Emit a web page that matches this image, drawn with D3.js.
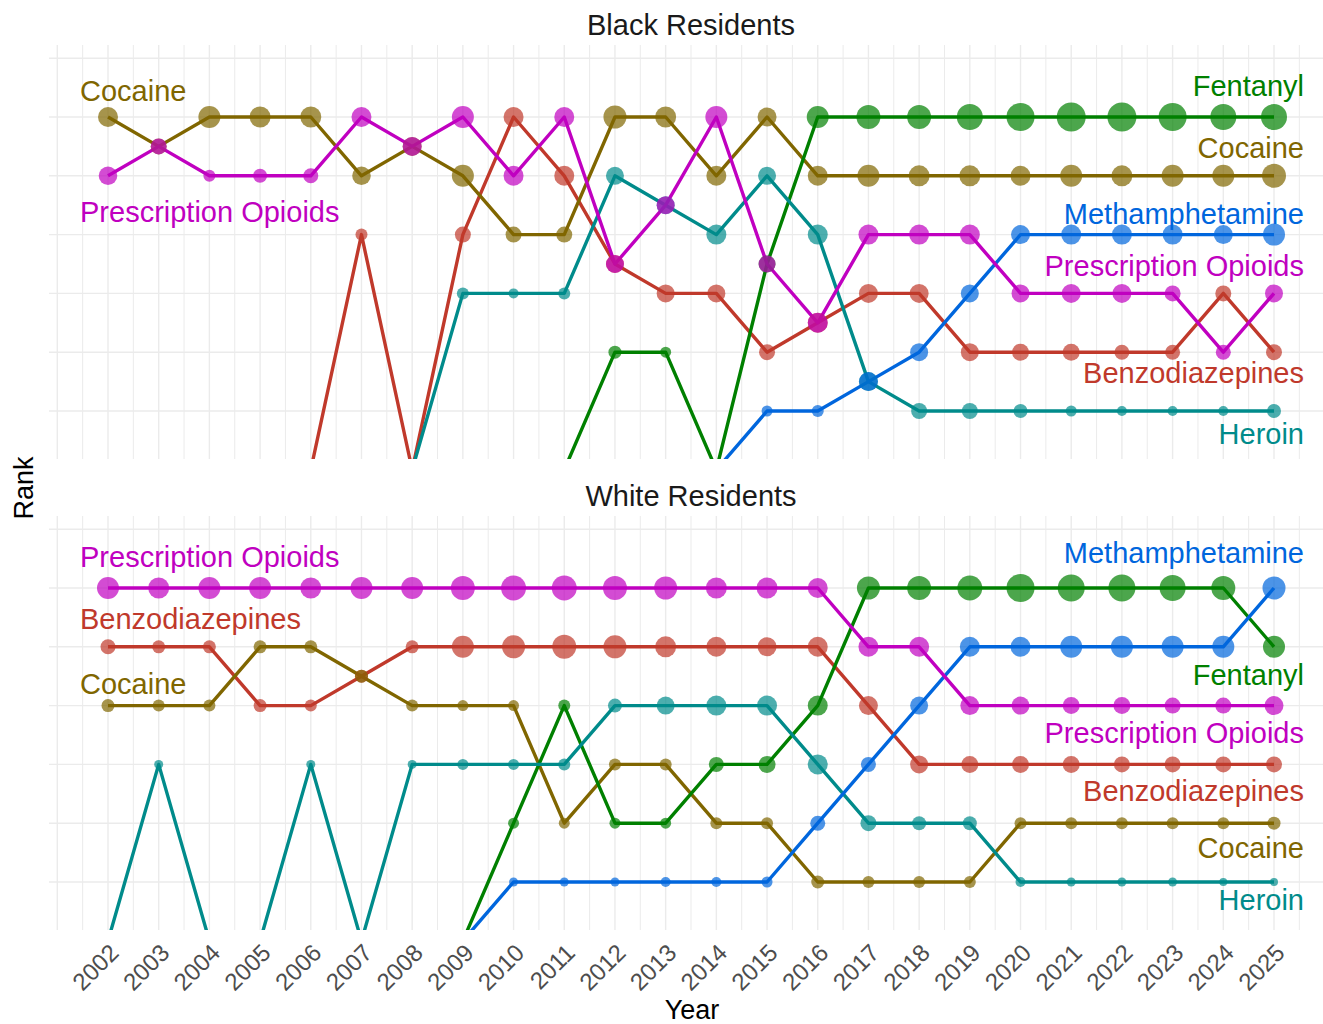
<!DOCTYPE html>
<html>
<head>
<meta charset="utf-8">
<script src="https://cdn.jsdelivr.net/npm/d3@7"></script>
<style>
  body { margin: 0; background: #fff; }
  svg { display: block; }
  text { font-family: "Liberation Sans", Arial, Helvetica, sans-serif; }
</style>
</head>
<body>
<svg id="chart" width="1323" height="1024"></svg>
<script>
// ---------------- DATA ----------------
const years = [2002, 2003, 2004, 2005, 2006, 2007, 2008, 2009, 2010, 2011, 2012, 2013,
               2014, 2015, 2016, 2017, 2018, 2019, 2020, 2021, 2022, 2023, 2024, 2025];
const drugs = ["Benzodiazepines", "Cocaine", "Fentanyl", "Heroin", "Methamphetamine", "Prescription Opioids"];
const drugColors = ["#C0392B", "#806600", "#008000", "#008B8B", "#0066DD", "#C000C0"];
const panelTitles = ["Black Residents", "White Residents"];

// Rank per year (7 = outside the top six, falls below the panel)
const blackBenzoRank    = [7, 7, 7, 7, 7, 3, 7, 3, 1, 2, 3.5, 4, 4, 5, 4.5, 4, 4, 5, 5, 5, 5, 5, 4, 5];
const blackCocaineRank  = [1, 1.5, 1, 1, 1, 2, 1.5, 2, 3, 3, 1, 1, 2, 1, 2, 2, 2, 2, 2, 2, 2, 2, 2, 2];
const blackFentanylRank = [7, 7, 7, 7, 7, 7, 7, 7, 7, 7, 5, 5, 7, 3.5, 1, 1, 1, 1, 1, 1, 1, 1, 1, 1];
const blackHeroinRank   = [7, 7, 7, 7, 7, 7, 7, 4, 4, 4, 2, 2.5, 3, 2, 3, 5.5, 6, 6, 6, 6, 6, 6, 6, 6];
const blackMethRank     = [7, 7, 7, 7, 7, 7, 7, 7, 7, 7, 7, 7, 7, 6, 6, 5.5, 5, 4, 3, 3, 3, 3, 3, 3];
const blackOpioidRank   = [2, 1.5, 2, 2, 2, 1, 1.5, 1, 2, 1, 3.5, 2.5, 1, 3.5, 4.5, 3, 3, 3, 4, 4, 4, 4, 5, 4];

const whiteBenzoRank    = [2, 2, 2, 3, 3, 2.5, 2, 2, 2, 2, 2, 2, 2, 2, 2, 3, 4, 4, 4, 4, 4, 4, 4, 4];
const whiteCocaineRank  = [3, 3, 3, 2, 2, 2.5, 3, 3, 3, 5, 4, 4, 5, 5, 6, 6, 6, 6, 5, 5, 5, 5, 5, 5];
const whiteFentanylRank = [7, 7, 7, 7, 7, 7, 7, 7, 5, 3, 5, 5, 4, 4, 3, 1, 1, 1, 1, 1, 1, 1, 1, 2];
const whiteHeroinRank   = [7, 4, 7, 7, 4, 7, 4, 4, 4, 4, 3, 3, 3, 3, 4, 5, 5, 5, 6, 6, 6, 6, 6, 6];
const whiteMethRank     = [7, 7, 7, 7, 7, 7, 7, 7, 6, 6, 6, 6, 6, 6, 5, 4, 3, 2, 2, 2, 2, 2, 2, 1];
const whiteOpioidRank   = [1, 1, 1, 1, 1, 1, 1, 1, 1, 1, 1, 1, 1, 1, 1, 2, 2, 3, 3, 3, 3, 3, 3, 3];

// Deaths per year (point size)
const blackBenzoDeaths    = [40, 40, 40, 40, 40, 160, 40, 284, 444, 444, 360, 360, 360, 284, 444, 401, 401, 360, 321, 321, 250, 250, 284, 284];
const blackCocaineDeaths  = [444, 284, 538, 490, 490, 384, 401, 538, 284, 284, 588, 490, 444, 401, 444, 538, 490, 490, 444, 538, 490, 538, 538, 640];
const blackFentanylDeaths = [40, 40, 40, 40, 40, 40, 40, 40, 40, 40, 188, 134, 40, 321, 538, 640, 640, 751, 871, 934, 934, 871, 751, 751];
const blackHeroinDeaths   = [40, 40, 40, 40, 40, 40, 40, 160, 111, 160, 360, 360, 444, 360, 444, 401, 284, 284, 218, 134, 111, 111, 111, 218];
const blackMethDeaths     = [40, 40, 40, 40, 40, 40, 40, 40, 40, 40, 40, 40, 40, 134, 160, 401, 360, 360, 401, 444, 444, 444, 401, 538];
const blackOpioidDeaths   = [384, 284, 160, 218, 250, 444, 401, 538, 444, 444, 360, 360, 538, 321, 444, 444, 444, 444, 360, 401, 401, 284, 250, 360];

const whiteBenzoDeaths    = [250, 188, 188, 188, 160, 188, 188, 538, 588, 640, 588, 490, 444, 401, 444, 401, 360, 321, 321, 321, 284, 284, 284, 284];
const whiteCocaineDeaths  = [188, 160, 160, 188, 188, 188, 160, 134, 134, 134, 160, 160, 160, 160, 188, 160, 160, 160, 160, 160, 160, 160, 160, 188];
const whiteFentanylDeaths = [40, 40, 40, 40, 40, 40, 40, 40, 134, 160, 134, 134, 250, 321, 444, 588, 640, 694, 871, 810, 810, 751, 640, 538];
const whiteHeroinDeaths   = [40, 90, 40, 40, 90, 40, 90, 134, 134, 160, 218, 360, 444, 444, 444, 284, 218, 218, 111, 90, 90, 90, 71, 71];
const whiteMethDeaths     = [40, 40, 40, 40, 40, 40, 40, 40, 90, 90, 90, 111, 111, 134, 250, 250, 360, 444, 444, 538, 538, 538, 538, 588];
const whiteOpioidDeaths   = [538, 490, 538, 538, 490, 538, 538, 640, 694, 694, 640, 588, 490, 490, 444, 444, 444, 401, 360, 321, 321, 284, 284, 401];

const panelRanks = [
  [blackBenzoRank, blackCocaineRank, blackFentanylRank, blackHeroinRank, blackMethRank, blackOpioidRank],
  [whiteBenzoRank, whiteCocaineRank, whiteFentanylRank, whiteHeroinRank, whiteMethRank, whiteOpioidRank]
];
const panelDeaths = [
  [blackBenzoDeaths, blackCocaineDeaths, blackFentanylDeaths, blackHeroinDeaths, blackMethDeaths, blackOpioidDeaths],
  [whiteBenzoDeaths, whiteCocaineDeaths, whiteFentanylDeaths, whiteHeroinDeaths, whiteMethDeaths, whiteOpioidDeaths]
];

// Label placement (vertical nudge from the point, px) — layout only
const leftLabelNudge = [
  { "Cocaine": -16, "Prescription Opioids": 46 },
  { "Prescription Opioids": -21, "Benzodiazepines": -17.5, "Cocaine": -12 }
];
const rightLabelNudge = [
  { "Fentanyl": -21, "Cocaine": -17.5, "Methamphetamine": -11, "Prescription Opioids": -17, "Benzodiazepines": 31, "Heroin": 33 },
  { "Methamphetamine": -25, "Fentanyl": 38.5, "Prescription Opioids": 37, "Benzodiazepines": 37, "Cocaine": 35, "Heroin": 28 }
];

// ---------------- LAYOUT ----------------
const panelLeft = 49, panelRight = 1323;
const panelTops = [45, 516];
const panelH = 414;
const titleX = 691;

const svg = d3.select("#chart");
const color = d3.scaleOrdinal().domain(drugs).range(drugColors);
const x = d3.scaleLinear().domain([2002, 2025]).range([108, 1274]);
const r = d3.scaleSqrt().domain([0, 1000]).range([0, 15]);

const defs = svg.append("defs");

panelTitles.forEach((title, p) => {
  const top = panelTops[p];
  const y = d3.scaleLinear().domain([1, 6]).range([top + 72, top + 366]);

  defs.append("clipPath").attr("id", "clip" + p)
    .append("rect").attr("x", panelLeft).attr("y", top)
    .attr("width", panelRight - panelLeft).attr("height", panelH);

  const g = svg.append("g");

  // grid: vertical (years + half years)
  const vGrid = d3.range(2001, 2025.51, 0.5);
  g.append("g").selectAll("line").data(vGrid).join("line")
    .attr("x1", d => x(d)).attr("x2", d => x(d))
    .attr("y1", top).attr("y2", top + panelH)
    .attr("stroke", "#EBEBEB")
    .attr("stroke-width", d => Number.isInteger(d) ? 1.4 : 1.0);

  // grid: horizontal at ranks
  const hGrid = [0, 1, 2, 3, 4, 5, 6];
  g.append("g").selectAll("line").data(hGrid).join("line")
    .attr("x1", panelLeft).attr("x2", panelRight)
    .attr("y1", d => y(d)).attr("y2", d => y(d))
    .attr("stroke", "#EBEBEB").attr("stroke-width", 1.4);

  // strip title
  svg.append("text")
    .attr("x", titleX).attr("y", top - 10)
    .attr("text-anchor", "middle")
    .attr("font-size", 29).attr("fill", "#1A1A1A")
    .text(title);

  const series = drugs.map((drug, k) => ({
    drug,
    values: years.map((yr, i) => ({ year: yr, rank: panelRanks[p][k][i], n: panelDeaths[p][k][i] }))
  }));

  const plot = g.append("g").attr("clip-path", `url(#clip${p})`);
  const line = d3.line().x(d => x(d.year)).y(d => y(d.rank));

  plot.append("g").selectAll("path").data(series).join("path")
    .attr("d", s => line(s.values))
    .attr("fill", "none")
    .attr("stroke", s => color(s.drug))
    .attr("stroke-width", 3.4)
    .attr("stroke-linejoin", "round");

  plot.append("g").selectAll("g").data(series).join("g")
    .attr("fill", s => color(s.drug))
    .attr("fill-opacity", 0.7)
    .selectAll("circle").data(s => s.values).join("circle")
    .attr("cx", d => x(d.year)).attr("cy", d => y(d.rank))
    .attr("r", d => r(d.n));

  // end labels
  series.forEach(s => {
    const first = s.values[0];
    const nudge = leftLabelNudge[p][s.drug];
    if (first.rank <= 6 && nudge !== undefined) {
      svg.append("text")
        .attr("x", 80).attr("y", y(first.rank) + nudge)
        .attr("font-size", 29).attr("fill", color(s.drug))
        .text(s.drug);
    }
    const last = s.values[s.values.length - 1];
    const nudgeR = rightLabelNudge[p][s.drug];
    if (last.rank <= 6 && nudgeR !== undefined) {
      svg.append("text")
        .attr("x", 1304).attr("y", y(last.rank) + nudgeR)
        .attr("text-anchor", "end")
        .attr("font-size", 29).attr("fill", color(s.drug))
        .text(s.drug);
    }
  });
});

// x axis tick labels (bottom panel only)
svg.append("g").selectAll("text").data(years).join("text")
  .attr("transform", d => `translate(${x(d)},942) rotate(-45)`)
  .attr("text-anchor", "end")
  .attr("dy", "0.72em")
  .attr("font-size", 24).attr("fill", "#4D4D4D")
  .text(d => d);

// axis titles
svg.append("text")
  .attr("x", 692).attr("y", 1019)
  .attr("text-anchor", "middle")
  .attr("font-size", 27).attr("fill", "#000")
  .text("Year");

svg.append("text")
  .attr("transform", "translate(33,488) rotate(-90)")
  .attr("text-anchor", "middle")
  .attr("font-size", 27).attr("fill", "#000")
  .text("Rank");
</script>
</body>
</html>
